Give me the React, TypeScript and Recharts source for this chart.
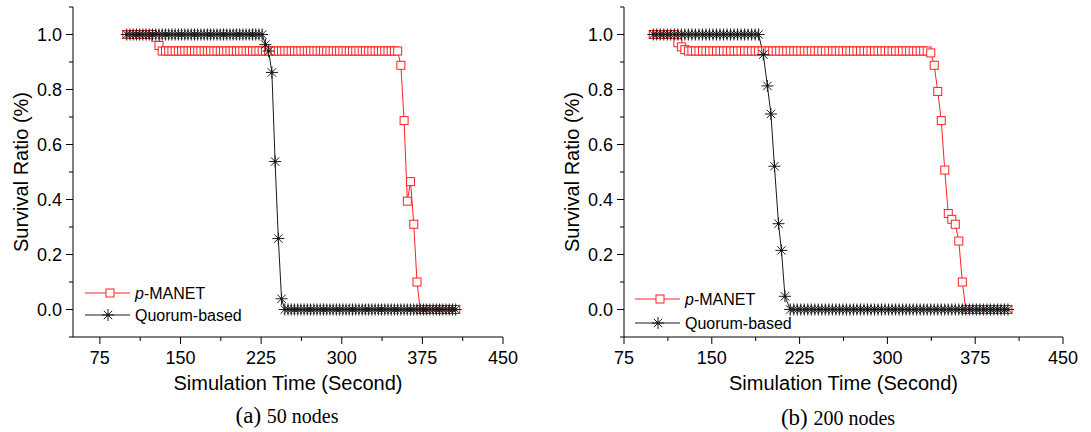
import React from 'react'
import { LineChart, Line, XAxis, YAxis } from 'recharts'

// (a) 50 nodes
const timesA = [
  100, 103, 106, 109, 112, 115, 118, 121, 124, 127,
  130, 133, 136, 139, 142, 145, 148, 151, 154, 157,
  160, 163, 166, 169, 172, 175, 178, 181, 184, 187,
  190, 193, 196, 199, 202, 205, 208, 211, 214, 217,
  220, 223, 226, 229, 232, 235, 238, 241, 244, 247,
  250, 253, 256, 259, 262, 265, 268, 271, 274, 277,
  280, 283, 286, 289, 292, 295, 298, 301, 304, 307,
  310, 313, 316, 319, 322, 325, 328, 331, 334, 337,
  340, 343, 346, 349, 352, 355, 358, 361, 364, 367,
  370, 373, 376, 379, 382, 385, 388, 391, 394, 397,
  400, 403, 406,
]
const pmanetA = [
  1, 1, 1, 1, 1, 1, 1, 1, 1, 0.99,
  0.96, 0.94, 0.94, 0.94, 0.94, 0.94, 0.94, 0.94, 0.94, 0.94,
  0.94, 0.94, 0.94, 0.94, 0.94, 0.94, 0.94, 0.94, 0.94, 0.94,
  0.94, 0.94, 0.94, 0.94, 0.94, 0.94, 0.94, 0.94, 0.94, 0.94,
  0.94, 0.94, 0.94, 0.94, 0.94, 0.94, 0.94, 0.94, 0.94, 0.94,
  0.94, 0.94, 0.94, 0.94, 0.94, 0.94, 0.94, 0.94, 0.94, 0.94,
  0.94, 0.94, 0.94, 0.94, 0.94, 0.94, 0.94, 0.94, 0.94, 0.94,
  0.94, 0.94, 0.94, 0.94, 0.94, 0.94, 0.94, 0.94, 0.94, 0.94,
  0.94, 0.94, 0.94, 0.94, 0.94, 0.888, 0.687, 0.394, 0.465, 0.31,
  0.1, 0, 0, 0, 0, 0, 0, 0, 0, 0,
  0, 0, 0,
]
const quorumA = [
  1, 1, 1, 1, 1, 1, 1, 1, 1, 1,
  1, 1, 1, 1, 1, 1, 1, 1, 1, 1,
  1, 1, 1, 1, 1, 1, 1, 1, 1, 1,
  1, 1, 1, 1, 1, 1, 1, 1, 1, 1,
  1, 1, 1, 0.963, 0.94, 0.862, 0.538, 0.258, 0.039, 0,
  0, 0, 0, 0, 0, 0, 0, 0, 0, 0,
  0, 0, 0, 0, 0, 0, 0, 0, 0, 0,
  0, 0, 0, 0, 0, 0, 0, 0, 0, 0,
  0, 0, 0, 0, 0, 0, 0, 0, 0, 0,
  0, 0, 0, 0, 0, 0, 0, 0, 0, 0,
  0, 0, 0,
]

// (b) 200 nodes
const timesB = [
  100, 103, 106, 109, 112, 115, 118, 121, 124, 127,
  130, 133, 136, 139, 142, 145, 148, 151, 154, 157,
  160, 163, 166, 169, 172, 175, 178, 181, 184, 187,
  190, 193, 196, 199, 202, 205, 208, 211, 214, 217,
  220, 223, 226, 229, 232, 235, 238, 241, 244, 247,
  250, 253, 256, 259, 262, 265, 268, 271, 274, 277,
  280, 283, 286, 289, 292, 295, 298, 301, 304, 307,
  310, 313, 316, 319, 322, 325, 328, 331, 334, 337,
  340, 343, 346, 349, 352, 355, 358, 361, 364, 367,
  370, 373, 376, 379, 382, 385, 388, 391, 394, 397,
  400, 403,
]
const pmanetB = [
  1, 1, 1, 1, 1, 1, 1, 0.97, 0.955, 0.945,
  0.94, 0.94, 0.94, 0.94, 0.94, 0.94, 0.94, 0.94, 0.94, 0.94,
  0.94, 0.94, 0.94, 0.94, 0.94, 0.94, 0.94, 0.94, 0.94, 0.94,
  0.94, 0.94, 0.94, 0.94, 0.94, 0.94, 0.94, 0.94, 0.94, 0.94,
  0.94, 0.94, 0.94, 0.94, 0.94, 0.94, 0.94, 0.94, 0.94, 0.94,
  0.94, 0.94, 0.94, 0.94, 0.94, 0.94, 0.94, 0.94, 0.94, 0.94,
  0.94, 0.94, 0.94, 0.94, 0.94, 0.94, 0.94, 0.94, 0.94, 0.94,
  0.94, 0.94, 0.94, 0.94, 0.94, 0.94, 0.94, 0.94, 0.94, 0.933,
  0.888, 0.793, 0.687, 0.507, 0.349, 0.328, 0.31, 0.249, 0.1, 0,
  0, 0, 0, 0, 0, 0, 0, 0, 0, 0,
  0, 0,
]
const quorumTimesB = [
  100, 103, 106, 109, 112, 115, 118, 121, 124, 127,
  130, 133, 136, 139, 142, 145, 148, 151, 154, 157,
  160, 163, 166, 169, 172, 175, 178, 181, 184, 187,
  190, 194, 197.5, 200.5, 203.5, 207, 209.5, 212.5,
  217, 220, 223, 226, 229, 232, 235, 238, 241, 244,
  247, 250, 253, 256, 259, 262, 265, 268, 271, 274,
  277, 280, 283, 286, 289, 292, 295, 298, 301, 304,
  307, 310, 313, 316, 319, 322, 325, 328, 331, 334,
  337, 340, 343, 346, 349, 352, 355, 358, 361, 364,
  367, 370, 373, 376, 379, 382, 385, 388, 391, 394,
  397, 400, 403,
]
const quorumB = [
  1, 1, 1, 1, 1, 1, 1, 1, 1, 1,
  1, 1, 1, 1, 1, 1, 1, 1, 1, 1,
  1, 1, 1, 1, 1, 1, 1, 1, 1, 1,
  1, 0.927, 0.813, 0.711, 0.521, 0.312, 0.215, 0.048,
  0, 0, 0, 0, 0, 0, 0, 0, 0, 0,
  0, 0, 0, 0, 0, 0, 0, 0, 0, 0,
  0, 0, 0, 0, 0, 0, 0, 0, 0, 0,
  0, 0, 0, 0, 0, 0, 0, 0, 0, 0,
  0, 0, 0, 0, 0, 0, 0, 0, 0, 0,
  0, 0, 0, 0, 0, 0, 0, 0, 0, 0,
  0, 0, 0,
]

const xTicks = [75, 112.5, 150, 187.5, 225, 262.5, 300, 337.5, 375, 412.5, 450]
const xMajor = [75, 150, 225, 300, 375, 450]
const yTicks = [-0.1, 0, 0.1, 0.2, 0.3, 0.4, 0.5, 0.6, 0.7, 0.8, 0.9, 1.0, 1.1]
const yMajor = [0, 0.2, 0.4, 0.6, 0.8, 1.0]

const RED = '#ff2020'
const BLACK = '#1a1a1a'
const SANS = '"Liberation Sans", Arial, sans-serif'
const SERIF = '"Liberation Serif", "Times New Roman", serif'

const pair = (t: number[], v: number[]) => t.map((x, i) => ({ t: x, v: v[i] }))

function SquareDot(props: any) {
  const { cx, cy } = props
  if (cx == null || cy == null) return null
  return <rect x={cx - 4} y={cy - 4} width={8} height={8} fill="#fff" stroke={RED} strokeWidth={1} />
}

function StarDot(props: any) {
  const { cx, cy } = props
  if (cx == null || cy == null) return null
  const r = 6
  const d = 4.2
  return (
    <g stroke={BLACK} strokeWidth={1}>
      <line x1={cx} y1={cy - r} x2={cx} y2={cy + r} />
      <line x1={cx - r} y1={cy} x2={cx + r} y2={cy} />
      <line x1={cx - d} y1={cy - d} x2={cx + d} y2={cy + d} />
      <line x1={cx - d} y1={cy + d} x2={cx + d} y2={cy - d} />
      <circle cx={cx} cy={cy} r={1.4} fill={BLACK} stroke="none" />
    </g>
  )
}

function XTick(props: any) {
  const { x, y, payload } = props
  const major = xMajor.includes(payload.value)
  return (
    <g>
      <line x1={x} y1={y} x2={x} y2={y + (major ? 7 : 4)} stroke="#000" />
      {major && (
        <text x={x} y={y + 27} textAnchor="middle" fontSize={18} fontFamily={SANS} fill="#000">
          {payload.value}
        </text>
      )}
    </g>
  )
}

function YTick(props: any) {
  const { x, y, payload } = props
  const v = payload.value
  const major = yMajor.some((m) => Math.abs(m - v) < 1e-6)
  return (
    <g>
      <line x1={x - (major ? 7 : 4)} y1={y} x2={x} y2={y} stroke="#000" />
      {major && (
        <text x={x - 11} y={y + 6} textAnchor="end" fontSize={18} fontFamily={SANS} fill="#000">
          {v.toFixed(1)}
        </text>
      )}
    </g>
  )
}

function Legend({ x, y1, y2 }: { x: number; y1: number; y2: number }) {
  return (
    <svg width={200} height={50} style={{ position: 'absolute', left: x, top: y1 - 12 }}>
      <g transform={`translate(0, 12)`}>
        <line x1={0} y1={0} x2={45} y2={0} stroke={RED} />
        <SquareDot cx={25} cy={0} />
        <text x={50} y={5.5} fontSize={16} fontFamily={SANS} fill="#000">
          <tspan fontStyle="italic">p</tspan>-MANET
        </text>
      </g>
      <g transform={`translate(0, ${12 + y2 - y1})`}>
        <line x1={0} y1={0} x2={45} y2={0} stroke={BLACK} />
        <StarDot cx={23} cy={0} />
        <text x={50} y={5.5} fontSize={16} fontFamily={SANS} fill="#000">Quorum-based</text>
      </g>
    </svg>
  )
}

function Panel(props: {
  left: number
  width: number
  axisWidth: number
  xMin: number
  pmanet: { t: number; v: number }[]
  quorum: { t: number; v: number }[]
  titleOffset: number
}) {
  const { left, width, axisWidth, xMin, pmanet, quorum, titleOffset } = props
  return (
    <div style={{ position: 'absolute', left, top: 0 }}>
      <LineChart width={width} height={395} margin={{ top: 7, right: 17, bottom: 0, left: 0 }}>
        <XAxis
          type="number"
          dataKey="t"
          domain={[xMin, 450]}
          ticks={xTicks}
          interval={0}
          allowDataOverflow
          height={58}
          tickSize={0}
          tickMargin={0}
          tickLine={false}
          tick={<XTick />}
          axisLine={{ stroke: '#000' }}
          label={{ value: 'Simulation Time (Second)', position: 'insideBottom', offset: 5, fontSize: 20, fontFamily: SANS, fill: '#000' }}
        />
        <YAxis
          type="number"
          domain={[-0.1, 1.1]}
          ticks={yTicks}
          interval={0}
          allowDataOverflow
          width={axisWidth}
          tickSize={0}
          tickMargin={0}
          tickLine={false}
          tick={<YTick />}
          axisLine={{ stroke: '#000' }}
          label={{
            value: 'Survival Ratio (%)',
            angle: -90,
            position: 'insideLeft',
            offset: titleOffset,
            fontSize: 20,
            fontFamily: SANS,
            fill: '#000',
            style: { textAnchor: 'middle' },
          }}
        />
        <Line data={pmanet} dataKey="v" type="linear" stroke={RED} strokeWidth={1} dot={<SquareDot />} activeDot={false} isAnimationActive={false} />
        <Line data={quorum} dataKey="v" type="linear" stroke={BLACK} strokeWidth={1} dot={<StarDot />} activeDot={false} isAnimationActive={false} />
      </LineChart>
    </div>
  )
}

function Caption({ cx, top, tag, text }: { cx: number; top: number; tag: string; text: string }) {
  return (
    <div style={{ position: 'absolute', left: cx - 100, top, width: 200, textAlign: 'center', fontFamily: SERIF, lineHeight: '24px', color: '#000' }}>
      <span style={{ fontSize: 23 }}>{tag} </span>
      <span style={{ fontSize: 20 }}>{text}</span>
    </div>
  )
}

export default function App() {
  return (
    <div style={{ position: 'absolute', left: 0, top: 0, width: 1091, height: 432, background: '#fff', overflow: 'hidden' }}>
      <Panel left={0} width={520} axisWidth={73} xMin={50} pmanet={pair(timesA, pmanetA)} quorum={pair(timesA, quorumA)} titleOffset={21} />
      <Panel left={550} width={530} axisWidth={74} xMin={75} pmanet={pair(timesB, pmanetB)} quorum={pair(quorumTimesB, quorumB)} titleOffset={22} />
      <Legend x={85} y1={293} y2={315} />
      <Legend x={635} y1={299} y2={323} />
      <Caption cx={287} top={404} tag="(a)" text="50 nodes" />
      <Caption cx={838} top={406} tag="(b)" text="200 nodes" />
    </div>
  )
}
